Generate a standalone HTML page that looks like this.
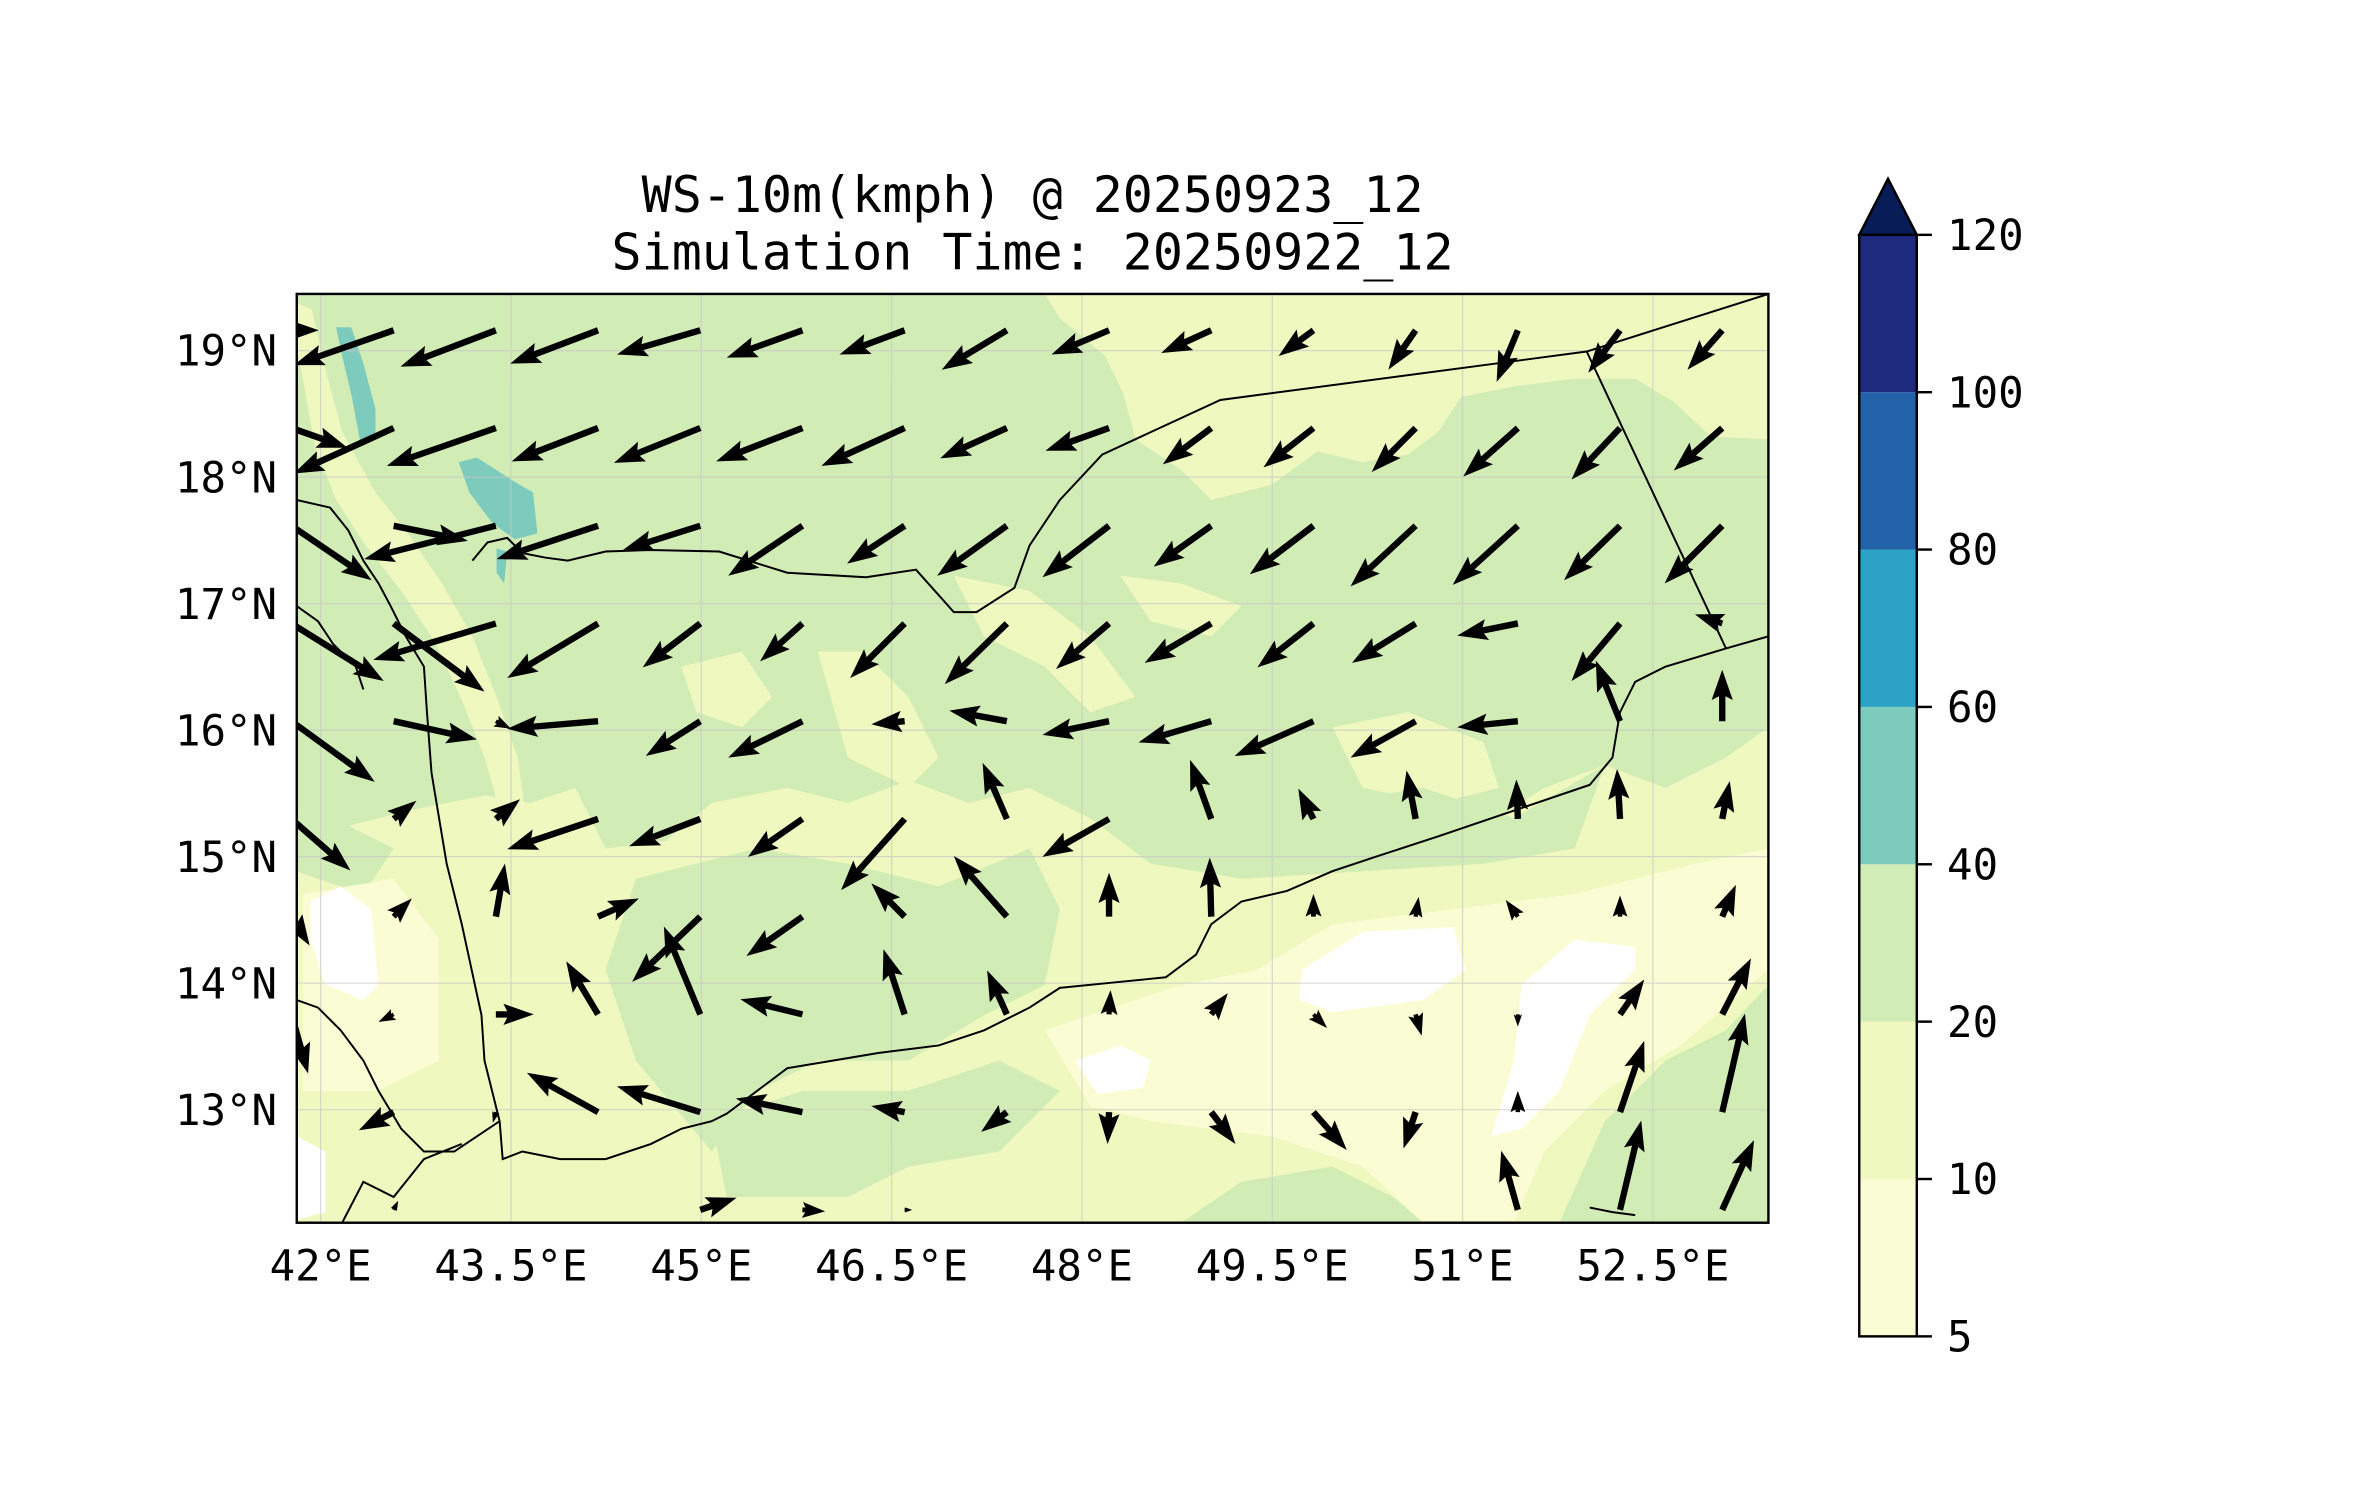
<!DOCTYPE html>
<html><head><meta charset="utf-8"><title>WS-10m chart</title>
<style>html,body{margin:0;padding:0;background:#fff}svg{display:block}text{font-family:"DejaVu Sans Mono","Liberation Mono",monospace;fill:#000}</style>
</head><body>
<svg id="chart" xmlns="http://www.w3.org/2000/svg" width="2371" height="1500" viewBox="0 0 1566 990" preserveAspectRatio="none">
<rect x="0" y="0" width="1566" height="990" fill="#fff"/>
<g>
<text x="682" y="140" font-size="33" text-anchor="middle">WS-10m(kmph) @ 20250923_12</text>
<text x="682" y="178" font-size="33" text-anchor="middle">Simulation Time: 20250922_12</text>
</g>
<defs><clipPath id="mapclip"><rect x="196" y="194" width="972" height="613"/></clipPath></defs>
<g clip-path="url(#mapclip)">
<rect x="196" y="194" width="972" height="613" fill="#d2ecb5"/>
<g fill="#eff8bf">
<path d="M690,194 L1168,194 L1168,290 L1130,288 L1105,265 L1080,250 L1040,250 L1000,255 L965,262 L950,285 L930,300 L900,305 L870,298 L840,320 L800,330 L780,310 L750,290 L742,260 L730,235 L700,210 Z"/>
<path d="M196,200 L206,204 L214,240 L226,285 L248,325 L268,350 L292,385 L312,420 L328,460 L342,500 L346,530 L330,535 L320,500 L305,462 L288,425 L265,390 L240,358 L222,330 L208,295 L200,250 L196,230 Z"/>
<path d="M196,535 L230,545 L270,535 L320,525 L350,530 L380,520 L400,560 L440,555 L470,530 L520,520 L560,530 L600,515 L640,530 L680,520 L720,540 L760,560 L800,565 L840,560 L880,540 L940,530 L980,545 L1020,520 L1060,505 L1100,520 L1140,500 L1168,480 L1168,807 L196,807 Z"/>
<path d="M630,380 L680,390 L720,420 L750,460 L720,470 L690,440 L650,420 Z"/>
<path d="M740,380 L780,385 L820,400 L800,420 L760,410 Z"/>
<path d="M540,430 L570,430 L600,460 L620,500 L600,520 L560,500 Z"/>
<path d="M880,480 L930,470 L980,490 L990,520 L950,530 L900,520 Z"/>
<path d="M450,440 L490,430 L510,460 L490,480 L460,470 Z"/>
</g>
<g fill="#d2ecb5">
<path d="M420,580 L500,560 L560,570 L620,585 L680,560 L700,600 L690,650 L650,670 L600,700 L540,700 L500,720 L470,760 L420,700 L400,640 Z"/>
<path d="M470,740 L530,720 L600,720 L660,700 L700,720 L660,760 L600,770 L560,790 L480,790 Z"/>
<path d="M1030,807 L1060,740 L1100,700 L1140,680 L1168,650 L1168,807 Z"/>
<path d="M780,807 L820,780 L880,770 L920,790 L940,807 Z"/>
<path d="M720,540 L800,545 L880,530 L940,520 L1000,540 L1060,505 L1040,560 L980,570 L900,575 L820,580 L760,570 Z"/>
<path d="M196,535 L230,545 L260,560 L240,590 L210,580 L196,575 Z"/>
</g>
<g fill="#fafdd3">
<path d="M690,680 L780,650 L830,640 L880,610 L960,600 L1040,590 L1120,570 L1168,560 L1168,640 L1110,690 L1060,720 L1020,760 L1000,807 L940,807 L900,770 L840,750 L760,740 L720,730 Z"/>
<path d="M200,590 L260,580 L290,620 L290,700 L250,720 L200,720 Z"/>
</g>
<g fill="#ffffff">
<path d="M860,640 L900,615 L960,612 L968,640 L940,660 L880,668 L858,660 Z"/>
<path d="M1005,650 L1040,620 L1080,625 L1080,640 L1050,670 L1030,720 L1005,745 L985,750 L1000,700 Z"/>
<path d="M710,700 L740,690 L760,700 L755,718 L725,722 Z"/>
<path d="M205,595 L225,585 L245,600 L250,650 L240,660 L215,650 L205,620 Z"/>
<path d="M196,750 L215,760 L215,800 L196,805 Z"/>
</g>
<g fill="#7ccbbd">
<path d="M222,216 L232,216 L240,240 L248,270 L248,290 L238,292 L232,260 L226,235 Z"/>
<path d="M303,305 L315,302 L340,318 L352,325 L355,352 L340,356 L325,345 L310,325 Z"/>
<path d="M328,362 L335,364 L333,385 L328,378 Z"/>
</g>
<g stroke="#c8c8c8" stroke-width="0.8" opacity="0.7" id="grid"></g>
<g fill="none" stroke="#000" stroke-width="1.3">
<path d="M312,370 L322,358 L335,355 L345,365 L360,368 L375,370 L400,364 L430,363 L475,364 L520,378 L572,381 L605,376 L630,404 L645,404 L670,388 L680,360 L700,330 L728,300 L806,264 L1048,232 L1168,194"/>
<path d="M1048,232 L1140,428"/>
<path d="M1168,420 L1140,428 L1100,440 L1080,450 L1070,470 L1065,500 L1050,518 L1000,535 L950,552 L910,565 L880,575 L850,588 L820,595 L800,610 L790,630 L770,645 L740,648 L700,652 L680,665 L650,680 L620,690 L580,695 L550,700 L520,705 L500,720 L480,735 L470,740 L450,745 L430,755 L400,765 L370,765 L345,760 L332,765 L330,740 L320,700 L318,670 L305,610 L295,570 L290,540 L285,510 L282,470 L280,440 L268,420 L258,400 L250,385 L240,370 L230,350 L218,335 L196,330"/>
<path d="M196,660 L210,665 L225,680 L240,700 L250,720 L265,745 L280,760 L300,760 L330,740"/>
<path d="M226,807 L240,780 L260,790 L280,765 L305,755"/>
<path d="M196,400 L210,410 L220,425 L235,440 L240,455"/>
<path d="M1050,797 L1065,800 L1080,802"/>
</g>
<g id="arrows"></g>
</g>
<rect x="196" y="194" width="972" height="613" fill="none" stroke="#000" stroke-width="1.6"/>
<g id="xticks"></g>
<g id="yticks"></g>
<g id="cbar"></g>
</svg>
<script>
// Lon/lat axes
const lonTicks = [42, 43.5, 45, 46.5, 48, 49.5, 51, 52.5];
const lonLabels = ["42°E", "43.5°E", "45°E", "46.5°E", "48°E", "49.5°E", "51°E", "52.5°E"];
const latTicks = [19, 18, 17, 16, 15, 14, 13];
const latLabels = ["19°N", "18°N", "17°N", "16°N", "15°N", "14°N", "13°N"];
// Colorbar levels
const cbLevels = [5, 10, 20, 40, 60, 80, 100, 120];
const cbColors = ["#fafdd3", "#eff8bf", "#d2ecb5", "#7ccbbd", "#2ca3c4", "#2162a8", "#1e2a7d"];
// Wind vectors (u east, v north) on a 10 x 15 grid, rows north to south
const windU = [
[18,-66,-63,-58,-55,-50,-43,-43,-38,-33,-23,-18,-14,-21,-23],
[37,-66,-72,-57,-57,-57,-55,-44,-42,-32,-33,-29,-36,-32,-32],
[53,49,-87,-67,-51,-49,-38,-46,-44,-38,-42,-43,-43,-37,-38],
[61,60,-81,-60,-38,-28,-36,-41,-35,-44,-37,-42,-40,-32,-18],
[55,55,10,-60,-36,-49,-22,-38,-44,-48,-52,-43,-40,-16,0],
[39,15,16,-60,-47,-36,-42,-16,-44,-14,-10,-6,-1,-2,5],
[12,12,6,27,-45,-37,-22,-35,0,-1,0,2,-8,0,9],
[11,-10,25,-21,-24,-41,-14,-13,1,11,9,4,0,16,19],
[2,-23,-2,-47,-55,-44,-22,-17,-1,16,22,-8,0,16,15],
[0,3,0,0,24,15,5,0,0,0,0,0,-11,14,21]
];
const windV = [
[0,-23,-24,-22,-16,-18,-16,-26,-16,-15,-17,-26,-34,-28,-26],
[-13,-30,-25,-22,-23,-22,-25,-20,-15,-24,-26,-29,-32,-34,-28],
[-36,-10,-22,-22,-16,-33,-25,-33,-34,-27,-32,-40,-39,-36,-38],
[-38,-45,-24,-36,-29,-25,-36,-40,-30,-26,-29,-26,-8,-38,6],
[-40,-12,-5,-5,-23,-24,-2,7,-9,-14,-23,-24,-4,40,34],
[-34,12,13,-20,-18,-25,-47,37,-25,39,20,32,26,33,25],
[-19,12,35,12,-43,-26,22,40,29,39,15,13,11,14,21],
[-39,-5,0,35,58,10,43,29,16,14,-9,-14,-8,23,37],
[-8,-12,-7,26,17,9,4,-13,-21,-21,-25,-24,14,47,65],
[0,6,0,0,8,-1,0,0,0,0,0,0,39,59,46]
];

const NS = "http://www.w3.org/2000/svg";
function mk(tag, attrs, parent) {
  const e = document.createElementNS(NS, tag);
  for (const k in attrs) e.setAttribute(k, attrs[k]);
  parent.appendChild(e);
  return e;
}
// axis functions
const xOfLon = lon => 211.8 + 83.8 * (lon - 42);
const yOfLat = lat => 231.4 + 83.5 * (19 - lat);
const gridX = k => 192.5 + 67.5 * k;
const gridY = j => 218 + 64.5 * j;
const cbY = i => 882 - i * (882 - 155) / (cbLevels.length - 1);

const grid = document.getElementById('grid');
lonTicks.forEach(function (lon) {
  const l = mk('line', {x1: xOfLon(lon), x2: xOfLon(lon), y1: 194, y2: 807}, grid);
  
  
});
latTicks.forEach(function (lat) {
  const l = mk('line', {x1: 196, x2: 1168, y1: yOfLat(lat), y2: yOfLat(lat)}, grid);
  
  
});
const xt = document.getElementById('xticks');
lonTicks.forEach(function (lon, i) {
  const t = mk('text', {x: xOfLon(lon), y: 845, 'font-size': 28, 'text-anchor': 'middle'}, xt);
  t.textContent = lonLabels[i];
  
  
});
const yt = document.getElementById('yticks');
latTicks.forEach(function (lat, i) {
  const t = mk('text', {x: 183, y: yOfLat(lat) + 10, 'font-size': 28, 'text-anchor': 'end'}, yt);
  t.textContent = latLabels[i];
  
  
});

// arrows
const ag = document.getElementById('arrows');
for (let j = 0; j < windU.length; j++) {
  for (let k = 0; k < windU[j].length; k++) {
    const dx = windU[j][k], dy = -windV[j][k];
    const L = Math.hypot(dx, dy);
    if (L < 1) continue;
    const tx = gridX(k), ty = gridY(j);
    const ux = dx / L, uy = dy / L, px = -uy, py = ux;
    let w = 4.2, hl = 20, ha = 17.5, hw = 7;
    if (L < hl) { const s = L / hl; w *= Math.max(s, 0.6); hl *= s; ha *= s; hw *= s; }
    const P = function (a, b) { return (tx + ux * a + px * b).toFixed(1) + ',' + (ty + uy * a + py * b).toFixed(1); };
    const pts = [P(0, w / 2), P(L - ha, w / 2), P(L - hl, hw), P(L, 0), P(L - hl, -hw), P(L - ha, -w / 2), P(0, -w / 2)].join(' ');
    const a = mk('polygon', {points: pts, fill: '#000'}, ag);
    
    
  }
}

// colorbar
const cb = document.getElementById('cbar');
for (let i = 0; i < cbColors.length; i++) {
  const r = mk('rect', {x: 1228, y: cbY(i + 1), width: 38, height: cbY(i) - cbY(i + 1), fill: cbColors[i]}, cb);
  
  
}
const tri = mk('polygon', {points: '1228,' + cbY(7) + ' 1247,118 1266,' + cbY(7), fill: '#081d58', stroke: '#000', 'stroke-width': 1.6}, cb);


const fr = mk('rect', {x: 1228, y: cbY(7), width: 38, height: cbY(0) - cbY(7), fill: 'none', stroke: '#000', 'stroke-width': 1.6}, cb);


cbLevels.forEach(function (v, i) {
  const tk = mk('line', {x1: 1266, x2: 1276, y1: cbY(i), y2: cbY(i), stroke: '#000', 'stroke-width': 1.6}, cb);
  
  
  const t = mk('text', {x: 1286, y: cbY(i) + 10, 'font-size': 28}, cb);
  t.textContent = String(v);
  
  
});
</script>
</body></html>
